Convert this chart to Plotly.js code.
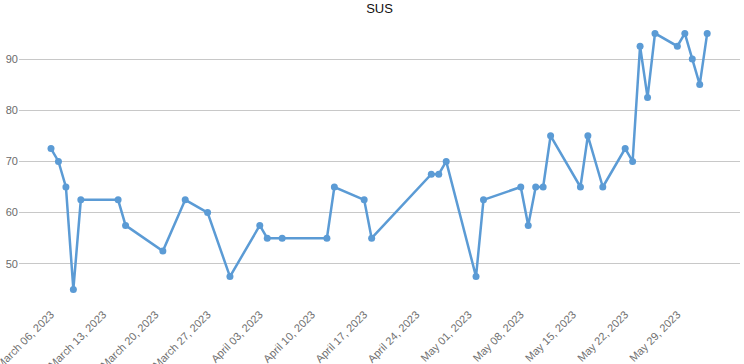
<!DOCTYPE html>
<html>
<head>
<meta charset="utf-8">
<script src="https://cdn.plot.ly/plotly-3.0.1.min.js"></script>
<style>html,body{margin:0;padding:0;background:#fff;}#chart{width:744px;height:364px;}</style>
</head>
<body>
<div id="chart"></div>
<script>
const dates = [
  "2023-03-06","2023-03-07","2023-03-08","2023-03-09","2023-03-10",
  "2023-03-15","2023-03-16","2023-03-21","2023-03-24","2023-03-27",
  "2023-03-30","2023-04-03","2023-04-04","2023-04-06","2023-04-12",
  "2023-04-13","2023-04-17","2023-04-18","2023-04-26","2023-04-27",
  "2023-04-28","2023-05-02","2023-05-03","2023-05-08","2023-05-09",
  "2023-05-10","2023-05-11","2023-05-12","2023-05-16","2023-05-17",
  "2023-05-19","2023-05-22","2023-05-23","2023-05-24","2023-05-25",
  "2023-05-26","2023-05-29","2023-05-30","2023-05-31","2023-06-01",
  "2023-06-02"
];
const sus = [
  72.5, 70, 65, 45, 62.5,
  62.5, 57.5, 52.5, 62.5, 60,
  47.5, 57.5, 55, 55, 55,
  65, 62.5, 55, 67.5, 67.5,
  70, 47.5, 62.5, 65, 57.5,
  65, 65, 75, 65, 75,
  65, 72.5, 70, 92.5, 82.5,
  95, 92.5, 95, 90, 85,
  95
];
const tickDates = [
  "2023-03-06","2023-03-13","2023-03-20","2023-03-27","2023-04-03",
  "2023-04-10","2023-04-17","2023-04-24","2023-05-01","2023-05-08",
  "2023-05-15","2023-05-22","2023-05-29"
];
const tickLabels = [
  "March 06, 2023","March 13, 2023","March 20, 2023","March 27, 2023","April 03, 2023",
  "April 10, 2023","April 17, 2023","April 24, 2023","May 01, 2023","May 08, 2023",
  "May 15, 2023","May 22, 2023","May 29, 2023"
];
const titleText = "SUS";

const trace = {
  x: dates, y: sus, type: "scatter", mode: "lines+markers",
  line: {color: "#5B9BD5", width: 2.5},
  marker: {color: "#5B9BD5", size: 7},
  hoverinfo: "skip"
};
const layout = {
  width: 744, height: 364,
  margin: {l: 19, r: 4, t: 25, b: 64},
  paper_bgcolor: "#ffffff", plot_bgcolor: "#ffffff",
  showlegend: false,
  font: {family: "Liberation Sans, Arial, sans-serif", color: "#6b6b6b", size: 11},
  title: {text: titleText, x: 0.5, xref: "paper", y: 0.977, yref: "container", yanchor: "middle",
          font: {size: 13, color: "#111111", family: "Liberation Sans, Arial, sans-serif"}},
  xaxis: {
    type: "date",
    range: ["2023-03-01 17:00", "2023-06-06 09:36"],
    tickmode: "array", tickvals: tickDates, ticktext: tickLabels,
    tickangle: -45, ticklabeloverflow: "allow", ticklabelstandoff: 5,
    showgrid: false, zeroline: false, showline: false,
    ticks: "", tickfont: {size: 11, color: "#707070"}
  },
  yaxis: {
    range: [42.93, 96.64],
    tick0: 0, dtick: 10,
    showgrid: true, gridcolor: "#c8c8c8", gridwidth: 1,
    zeroline: false, showline: false, ticks: "",
    tickfont: {size: 11, color: "#6b6b6b"}
  }
};
Plotly.newPlot("chart", [trace], layout, {displayModeBar: false, staticPlot: true});
</script>
</body>
</html>
